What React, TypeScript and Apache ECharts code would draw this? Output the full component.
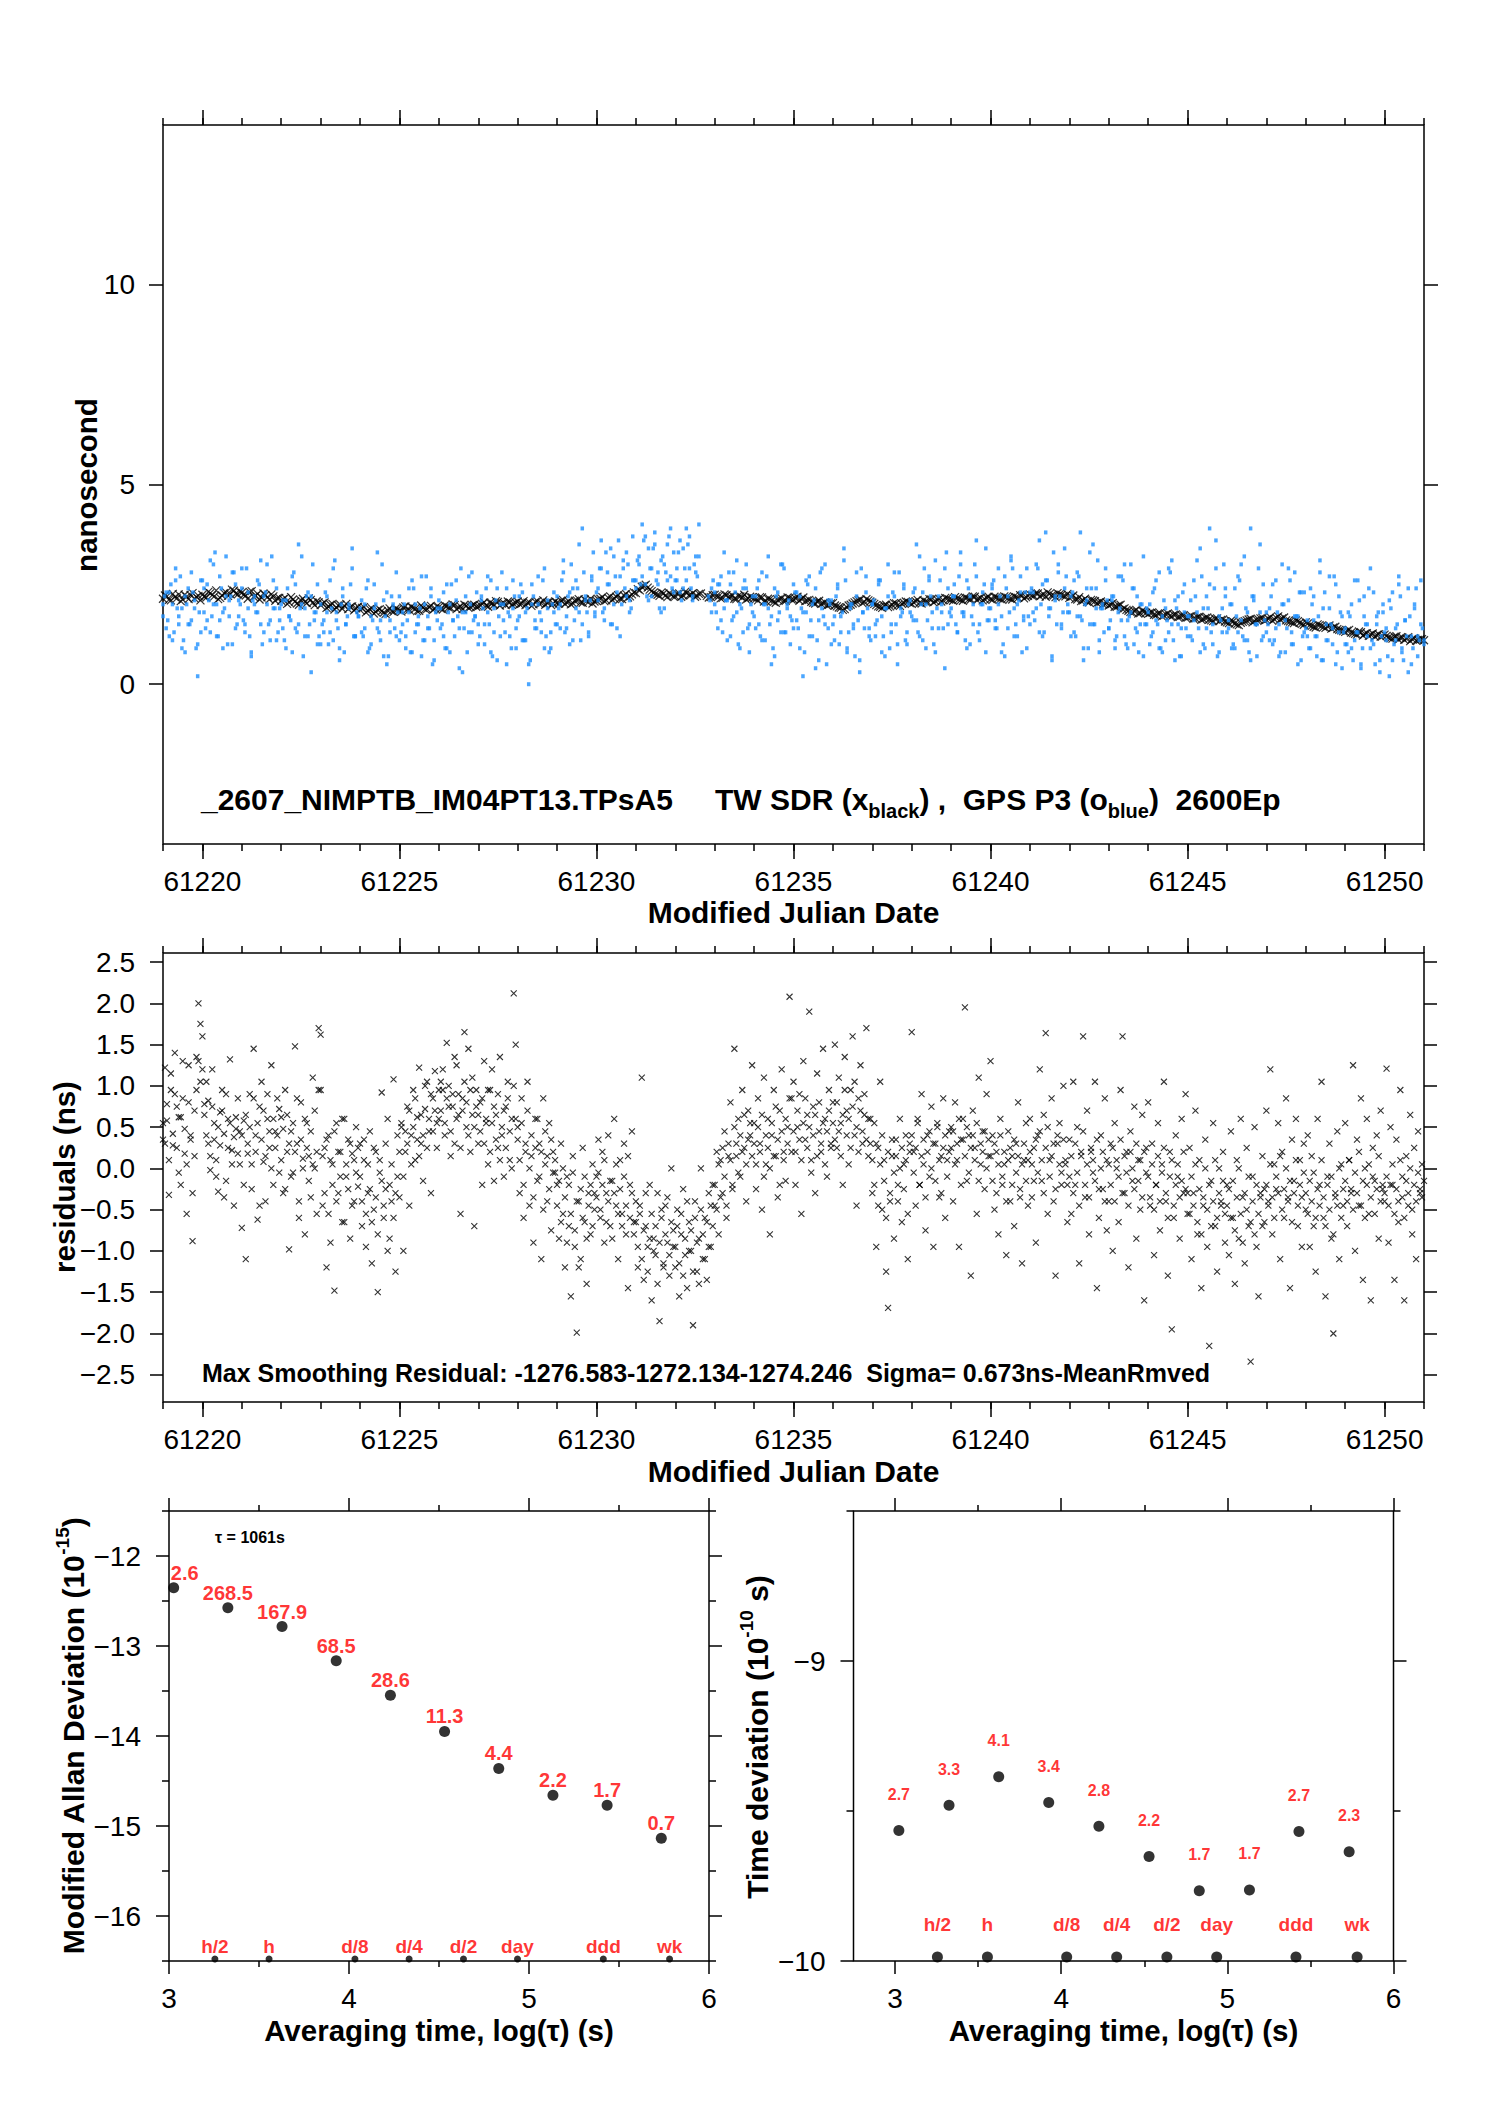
import React, { useEffect, useRef } from "react";
import * as echarts from "echarts";

// ---------- data ----------
const MJD_MIN = 61219;
const MJD_MAX = 61251;

// TW SDR (black x): two interleaved sample sets, 0.1 day apart each
const TW_START = 61219;
const TW_START_B = 61219.05;
const TW_STEP = 0.1;
const twSdr: (number | null)[] = [
  2.14, 2.20, 2.10, 2.18, 2.25, 2.12, 2.19, 2.23, 2.15, 2.21,
  2.24, 2.17, 2.28, 2.20, 2.13, 2.22, 2.30, 2.26, 2.34, 2.25,
  2.29, 2.22, 2.31, 2.19, 2.26, 2.17, 2.23, 2.12, 2.20, 2.15,
  2.09, 2.16, 2.05, 2.12, 2.02, 2.10, 2.06, 2.15, 2.04, 2.08,
  1.98, 2.05, 1.94, 2.01, 1.92, 1.99, 1.96, 1.88, 1.95, 1.90,
  1.86, 1.93, 1.84, 1.90, 1.81, 1.88, 1.79, 1.85, 1.83, 1.89,
  1.85, 1.92, 1.87, 1.94, 1.89, 1.84, 1.91, 1.88, 1.96, 1.90,
  1.93, 1.87, 1.95, 1.91, 1.98, 1.92, 1.88, 1.96, 1.93, 1.99,
  1.95, 2.01, 1.97, 2.04, 1.99, 2.06, 2.02, 1.98, 2.05, 2.01,
  2.07, 2.02, 1.98, 2.05, 2.00, 2.08, 2.03, 1.99, 2.06, 2.02,
  2.04, 2.09, 2.01, 2.07, 2.03, 2.10, 2.05, 2.12, 2.06, 2.02,
  2.09, 2.14, 2.08, 2.16, 2.11, 2.19, 2.14, 2.22, 2.17, 2.25,
  2.28, 2.35, 2.46, 2.42, 2.33, 2.26, 2.21, 2.27, 2.18, 2.24,
  2.20, 2.27, 2.22, 2.29, 2.24, 2.19, 2.26, null, 2.21, 2.18,
  2.24, 2.20, 2.16, 2.23, 2.19, 2.14, 2.21, 2.17, 2.12, 2.19,
  2.15, 2.10, 2.17, 2.08, 2.13, 2.06, 2.11, 2.15, 2.09, 2.16,
  2.12, 2.19, 2.14, 2.08, 2.11, 2.04, 2.07, 2.01, 2.05, 1.99,
  2.03, 1.95, 1.91, 1.88, 1.97, 2.02, 2.08, 2.12, 2.06, 2.10,
  2.04, 1.98, 1.94, 1.97, 1.93, 1.99, 2.02, 1.96, 2.04, 2.06,
  2.01, 2.08, 2.04, 2.10, 2.06, 2.12, 2.08, 2.14, 2.10, 2.15,
  2.11, 2.18, 2.13, 2.09, 2.16, 2.12, 2.19, 2.14, 2.10, 2.17,
  2.13, 2.19, 2.15, 2.11, 2.18, 2.14, 2.20, 2.16, 2.22, 2.18,
  2.25, 2.21, 2.27, 2.23, 2.19, 2.26, 2.22, 2.28, 2.24, 2.20,
  2.16, 2.22, 2.12, 2.08, 2.14, 2.05, 2.10, 2.03, 2.07, 2.01,
  1.97, 2.03, 1.94, 1.99, 1.90, 1.84, 1.80, 1.86, 1.78, 1.82,
  1.76, 1.80, 1.73, 1.78, 1.72, 1.77, 1.70, 1.75, 1.69, 1.73,
  1.67, 1.71, 1.65, 1.69, 1.63, 1.67, 1.60, 1.64, 1.58, 1.62,
  1.55, 1.59, 1.52, 1.48, 1.56, 1.60, 1.64, 1.58, 1.62, 1.66,
  1.61, 1.68, 1.63, 1.70, 1.65, 1.60, 1.57, 1.53, 1.58, 1.51,
  1.55, 1.48, 1.44, 1.50, 1.46, 1.41, 1.47, 1.42, 1.38, 1.35,
  1.31, 1.36, 1.28, 1.24, 1.30, 1.26, 1.21, 1.27, 1.23, 1.19,
  1.24, 1.17, 1.14, 1.20, 1.16, 1.11, 1.18, 1.13, 1.09, 1.12,
  1.10,
];
const twSdrB: (number | null)[] = [
  2.22, 2.11, 2.26, 2.15, 2.08, 2.24, 2.13, 2.28, 2.18, 2.10,
  2.19, 2.31, 2.23, 2.35, 2.16, 2.28, 2.21, 2.37, 2.27, 2.32,
  2.24, 2.14, 2.33, 2.21, 2.12, 2.27, 2.18, 2.25, 2.09, 2.16,
  2.13, 2.01, 2.18, 2.07, 1.99, 2.14, 2.03, 2.11, 1.98, 2.05,
  2.02, 1.91, 1.99, 1.87, 1.97, 1.89, 2.01, 1.93, 1.85, 1.94,
  1.91, 1.80, 1.88, 1.77, 1.86, 1.83, 1.76, 1.90, 1.81, 1.87,
  1.82, 1.95, 1.86, 1.91, 1.83, 1.97, 1.88, 1.93, 1.86, 1.95,
  1.89, 1.97, 1.92, 2.00, 1.88, 1.95, 1.99, 1.91, 1.97, 1.94,
  1.98, 2.05, 1.94, 2.02, 2.08, 1.97, 2.03, 2.07, 1.99, 2.04,
  2.00, 2.08, 2.04, 1.96, 2.06, 2.01, 2.10, 2.04, 1.98, 2.07,
  2.02, 2.11, 2.05, 2.00, 2.09, 2.13, 2.04, 2.08, 2.14, 2.07,
  2.12, 2.18, 2.10, 2.20, 2.15, 2.23, 2.13, 2.26, 2.20, 2.30,
  2.38, 2.44, 2.49, 2.37, 2.29, 2.24, 2.30, 2.22, 2.28, 2.20,
  2.26, 2.19, 2.31, 2.23, 2.28, 2.21, 2.27, null, 2.17, 2.23,
  2.21, 2.15, 2.25, 2.18, 2.22, 2.13, 2.20, 2.24, 2.15, 2.17,
  2.13, 2.18, 2.07, 2.14, 2.10, 2.04, 2.13, 2.08, 2.17, 2.12,
  2.15, 2.09, 2.17, 2.10, 2.06, 2.02, 2.09, 2.03, 1.97, 2.02,
  1.97, 1.92, 1.86, 1.93, 1.99, 2.05, 2.10, 2.03, 2.13, 2.07,
  2.01, 1.95, 1.91, 1.99, 1.95, 2.03, 1.98, 2.01, 2.07, 2.03,
  2.05, 2.11, 2.02, 2.07, 2.13, 2.05, 2.11, 2.07, 2.16, 2.12,
  2.09, 2.15, 2.11, 2.17, 2.13, 2.20, 2.11, 2.16, 2.13, 2.19,
  2.11, 2.17, 2.13, 2.20, 2.16, 2.12, 2.18, 2.23, 2.15, 2.21,
  2.22, 2.28, 2.20, 2.25, 2.30, 2.22, 2.18, 2.25, 2.21, 2.26,
  2.19, 2.13, 2.18, 2.10, 2.06, 2.11, 2.08, 2.05, 2.00, 2.04,
  2.00, 1.94, 1.97, 1.88, 1.86, 1.81, 1.83, 1.77, 1.84, 1.79,
  1.79, 1.74, 1.77, 1.70, 1.75, 1.71, 1.74, 1.68, 1.72, 1.66,
  1.70, 1.64, 1.68, 1.61, 1.66, 1.62, 1.58, 1.65, 1.61, 1.57,
  1.53, 1.57, 1.50, 1.54, 1.58, 1.62, 1.55, 1.61, 1.65, 1.59,
  1.64, 1.59, 1.66, 1.62, 1.67, 1.58, 1.55, 1.60, 1.54, 1.49,
  1.52, 1.46, 1.42, 1.48, 1.43, 1.45, 1.39, 1.44, 1.36, 1.33,
  1.34, 1.29, 1.26, 1.32, 1.22, 1.28, 1.24, 1.19, 1.25, 1.21,
  1.21, 1.15, 1.19, 1.12, 1.17, 1.14, 1.08, 1.15, 1.11, 1.13,
];

// GPS P3 (blue): three sample sets, 0.08 day apart each
const GPS_START = 61219;
const GPS_START_C = 61219.04;
const GPS_STEP = 0.08;
const gpsP3: (number | null)[] = [
  2.0, 1.4, 2.3, 1.1, 2.6, 1.7, 0.9, 2.2, 1.5, 2.8, 1.9, 0.2, 1.3,
  2.4, 1.6, 3.1, 2.0, 1.2, 2.7, 1.8, 3.2, 2.1, 1.0, 2.5, 1.7, 2.9,
  1.3, 2.3, 0.8, 2.0, 2.6, 1.5, 2.2, 3.0, 1.1, 1.9, 2.4, 1.6,
  2.1, 0.9, 1.7, 2.7, 1.4, 3.5, 2.0, 1.2, 2.3, 0.3, 1.8, 2.5, 1.0,
  1.6, 2.2, 1.3, 2.9, 1.8, 0.9, 2.4, 1.5, 2.0, 3.4, 1.2, 1.7,
  2.1, 1.4, 2.6, 1.0, 1.9, 3.3, 1.6, 0.7, 2.3, 1.3, 2.0, 2.8, 1.1,
  1.8, 1.2, 2.4, 0.8, 2.0, 1.5, 2.7, 1.1, 1.7, 2.2, 0.6, 1.9,
  1.4, 2.3, 0.9, 2.0, 1.6, 2.6, 0.4, 1.8, 2.2, 1.3, 2.8, 1.7, 1.0,
  2.1, 1.5, 2.7, 0.8, 1.9, 2.4, 1.2, 2.0, 0.5, 1.7, 2.6, 1.4,
  2.2, 1.1, 1.8, 0.0, 2.5, 1.6, 2.0, 1.3, 2.9, 1.9, 0.9, 2.3, 1.5,
  2.0, 3.1, 1.4, 2.3, 1.1, 2.6, 1.8, 3.9, 2.2, 1.3, 2.7, 1.7,
  2.4, 3.6, 1.9, 2.8, 1.5, 3.2, 2.3, 1.2, 2.9, 3.3, 2.1, 3.7, 2.6,
  3.0, 4.0, 2.5, 3.4, 2.2, 3.8, 2.8, 3.1, 1.9, 3.5, 2.7, 3.3,
  2.6, 3.6, 2.4, 3.9, 2.9, 2.2, 3.2, 4.0, null, null, null, 2.4, 2.0,
  2.5, 1.6, 3.3, 2.1, 1.2, 2.8, 1.8, 0.9, 2.4, 3.0, 1.5, 2.2,
  1.4, 2.6, 1.1, 2.0, 3.2, 1.7, 0.7, 2.3, 1.3, 2.9, 1.9, 1.0, 2.5,
  1.6, 2.2, 0.2, 1.8, 2.7, 1.2, 2.4, 0.6, 1.9, 3.0, 1.4, 2.1,
  1.1, 2.5, 1.7, 3.4, 0.9, 2.0, 1.4, 2.8, 0.3, 1.8, 2.3, 1.2, 2.0,
  1.5, 2.6, 0.8, 1.9, 3.0, 1.3, 2.2, 0.5, 1.7, 2.5, 1.0, 2.1,
  1.6, 3.5, 1.2, 2.3, 0.9, 2.7, 1.8, 3.1, 1.4, 2.0, 0.4, 2.4, 1.7,
  2.2, 1.3, 3.3, 1.8, 2.6, 1.0, 2.0, 3.6, 1.5, 2.3, 0.8, 1.9,
  2.5, 1.4, 2.9, 1.7, 0.7, 2.2, 3.2, 1.2, 2.0, 2.7, 1.6, 0.9, 2.3,
  1.8, 3.0, 1.3, 2.5, 3.8, 1.9, 0.6, 2.2, 2.8, 1.5, 3.4, 2.0,
  1.2, 2.6, 1.7, 3.8, 0.9, 2.1, 3.3, 1.5, 2.4, 0.8, 1.9, 2.9, 1.4,
  2.2, 1.1, 2.7, 1.6, 3.0, 0.9, 1.8, 2.4, 1.3, 2.0, 3.2, 1.5,
  1.0, 2.3, 1.6, 2.8, 0.8, 1.9, 1.3, 3.1, 2.1, 1.5, 0.7, 2.5, 1.7,
  1.2, 2.6, 1.8, 3.4, 1.0, 2.2, 3.9, 1.5, 2.9, 0.8, 1.9, 2.4,
  1.4, 2.0, 0.9, 2.7, 1.6, 3.2, 1.1, 3.9, 2.1, 0.7, 1.8, 2.5, 1.3,
  1.9, 1.0, 2.6, 1.5, 3.0, 0.8, 2.1, 1.3, 2.8, 1.7, 0.6, 2.3,
  1.2, 2.4, 1.6, 0.7, 3.1, 1.9, 1.1, 2.7, 1.4, 0.5, 2.2, 1.7, 1.0,
  1.8, 0.9, 2.6, 1.3, 0.4, 2.2, 1.5, 2.9, 1.0, 1.7, 0.6, 2.0,
  1.4, 0.2, 2.3, 1.1, 2.7, 0.8, 1.6, 2.4, 0.5, 1.9, 1.2, 2.6, 1.0,
];
const gpsP3b: (number | null)[] = [
  1.7, 2.3, 1.2, 2.0, 2.9, 1.5, 1.9, 0.8, 2.4, 1.6, 2.1, 1.0, 2.6,
  1.8, 2.5, 1.3, 3.0, 2.0, 1.6, 0.9, 2.2, 1.7, 2.8, 1.4, 2.1,
  2.4, 1.5, 1.9, 0.7, 2.2, 1.8, 3.1, 1.3, 2.0, 1.6, 2.6, 1.1, 1.9,
  1.4, 2.1, 1.7, 0.8, 2.5, 1.5, 3.2, 1.9, 1.2, 2.2, 1.6, 1.0,
  2.0, 1.3, 1.8, 2.6, 1.1, 1.6, 0.6, 2.2, 1.5, 1.9, 2.9, 1.2, 1.7,
  1.3, 2.0, 0.8, 1.7, 2.5, 1.4, 1.1, 2.1, 0.5, 1.6, 1.9, 1.2,
  2.2, 1.5, 0.9, 1.8, 2.6, 1.3, 1.7, 0.7, 2.0, 1.4, 2.4, 1.1, 1.6,
  1.9, 1.2, 2.5, 0.8, 1.6, 2.1, 1.4, 0.3, 1.8, 2.7, 1.3, 1.7,
  1.5, 2.2, 1.0, 1.8, 2.6, 1.3, 0.6, 2.0, 1.6, 2.4, 1.2, 1.9, 0.9,
  1.7, 2.3, 1.1, 0.5, 2.0, 1.4, 2.7, 1.6, 0.9, 2.1, 1.3, 1.8,
  2.2, 1.4, 2.8, 1.7, 1.0, 2.4, 1.9, 3.5, 1.5, 2.1, 1.2, 2.6, 1.8,
  2.1, 2.9, 1.6, 2.5, 3.4, 2.0, 1.4, 2.7, 3.1, 2.2, 1.8, 2.6,
  2.4, 3.2, 2.7, 3.7, 2.1, 2.9, 3.5, 2.5, 1.8, 3.0, 2.6, 3.9, 2.3,
  2.9, 2.3, 3.4, 2.6, 3.7, 2.1, 2.8, 3.2, null, null, 2.2, 1.8,
  2.3, 1.4, 2.7, 1.9, 1.1, 2.5, 1.7, 3.1, 2.0, 1.3, 2.4, 0.8, 1.8,
  2.2, 1.5, 2.8, 1.1, 1.9, 0.5, 2.4, 1.6, 3.0, 1.3, 2.0, 1.7,
  1.4, 2.3, 0.9, 1.8, 2.6, 1.2, 2.0, 0.4, 1.6, 2.9, 1.5, 2.1, 1.0,
  1.7, 2.4, 1.3, 3.1, 0.8, 1.9, 1.5, 2.2, 0.6, 1.8, 2.7, 1.4,
  2.0, 1.2, 2.5, 1.7, 0.7, 2.2, 1.5, 2.8, 1.0, 1.9, 2.4, 1.3, 1.8,
  2.3, 1.6, 3.2, 1.1, 2.0, 2.6, 1.4, 0.8, 2.2, 1.8, 2.9, 1.5,
  1.9, 2.5, 1.3, 3.0, 1.7, 0.9, 2.2, 1.5, 2.7, 1.1, 2.0, 3.4, 1.6,
  2.4, 1.6, 2.0, 0.8, 2.7, 1.4, 3.1, 1.9, 1.2, 2.3, 1.7, 2.9,
  1.5, 2.3, 1.9, 3.6, 1.2, 2.6, 1.7, 0.7, 2.1, 3.0, 1.4, 2.4, 1.8,
  2.2, 1.3, 2.8, 1.7, 0.6, 2.4, 1.5, 3.5, 1.9, 1.1, 2.0, 2.6,
  1.4, 2.1, 0.9, 1.8, 2.7, 1.2, 1.6, 3.0, 1.0, 2.2, 1.5, 0.7, 1.9,
  2.0, 1.3, 2.6, 0.9, 1.7, 1.1, 2.9, 1.5, 0.6, 2.2, 1.4, 1.8,
  1.2, 2.1, 1.6, 3.1, 0.8, 1.9, 1.4, 2.5, 1.0, 3.6, 1.7, 1.3, 2.2,
  1.6, 0.9, 2.4, 1.3, 3.0, 1.1, 1.8, 0.6, 2.2, 1.5, 3.5, 1.2,
  1.8, 1.1, 2.5, 1.4, 0.7, 2.0, 1.6, 2.9, 1.0, 1.7, 0.5, 2.3, 1.3,
  1.6, 0.9, 2.2, 1.2, 2.8, 0.6, 1.5, 1.9, 1.0, 2.5, 1.3, 0.4,
  1.4, 0.8, 2.0, 1.1, 2.6, 0.5, 1.7, 1.2, 0.9, 2.3, 1.5, 0.3, 1.8,
  1.1, 2.1, 0.6, 1.4, 2.5, 0.9, 1.6, 0.3, 1.2, 2.0, 0.7, 1.5,
  1.1,
];
const gpsP3c: (number | null)[] = [
  2.2, 1.6, 2.5, 1.3, 1.9, 2.7, 1.1, 2.0, 1.5, 2.3, 0.9, 1.8,
  2.6, 1.4, 2.1, 1.7, 3.3, 1.2, 2.4, 1.9, 1.0, 2.2, 2.8, 1.5, 2.0,
  1.6, 2.9, 1.2, 2.1, 1.8, 2.5, 1.0, 2.3, 1.5, 3.2, 1.9, 1.3,
  2.0, 1.1, 2.4, 1.6, 2.8, 1.3, 1.9, 0.7, 2.2, 1.5, 3.0, 1.8, 1.2,
  1.5, 2.3, 1.0, 1.9, 3.1, 1.4, 2.0, 0.8, 1.7, 2.5, 1.2, 1.8,
  1.9, 1.2, 2.4, 0.9, 1.6, 2.0, 1.3, 3.0, 1.7, 0.7, 2.2, 1.4, 1.8,
  1.3, 2.0, 1.6, 0.8, 2.4, 1.5, 1.9, 1.1, 2.7, 1.4, 0.5, 1.8,
  2.1, 1.5, 0.9, 1.8, 2.5, 1.2, 1.7, 2.9, 1.4, 0.8, 2.0, 1.6, 2.3,
  1.2, 1.9, 2.4, 1.5, 0.7, 2.1, 1.7, 2.8, 1.3, 1.8, 0.9, 2.2,
  1.6, 2.5, 1.1, 1.9, 0.6, 2.2, 1.4, 1.8, 2.6, 1.2, 0.8, 2.0, 1.5,
  1.9, 2.6, 1.3, 2.2, 3.0, 1.6, 2.4, 1.1, 2.8, 1.8, 2.1, 3.3,
  2.3, 2.9, 1.8, 3.3, 2.5, 1.5, 2.7, 3.6, 2.0, 2.4, 3.0, 1.9, 2.6,
  3.1, 2.5, 3.6, 2.2, 2.9, 3.4, 2.6, 1.9, 3.2, 2.8, 3.7, 2.4,
  2.6, 3.3, 2.1, 2.9, 3.5, 2.4, 3.0, 2.7, null, null, null, 2.1, 2.6,
  1.8, 2.5, 1.3, 2.1, 2.8, 1.6, 2.3, 1.0, 1.9, 2.6, 1.4, 2.0,
  1.7, 2.4, 1.2, 2.0, 2.7, 1.5, 0.9, 2.2, 1.8, 3.0, 1.3, 2.1, 1.6,
  2.3, 1.4, 1.9, 0.8, 2.5, 1.6, 2.1, 1.1, 2.8, 1.7, 0.5, 2.0,
  1.5, 2.2, 1.0, 1.8, 2.6, 1.3, 2.0, 0.7, 1.6, 2.9, 1.4, 1.9, 1.1,
  2.1, 1.6, 2.6, 1.2, 1.9, 0.9, 2.3, 1.5, 2.8, 1.8, 1.1, 2.0,
  1.7, 2.4, 1.3, 2.0, 2.9, 1.6, 2.2, 1.0, 1.9, 2.6, 1.4, 3.3, 1.8,
  2.2, 1.5, 2.7, 1.8, 1.1, 2.4, 1.7, 3.0, 1.3, 2.0, 2.5, 1.6,
  1.9, 2.6, 1.4, 2.2, 1.0, 2.4, 1.8, 2.9, 1.5, 2.1, 0.8, 2.3, 1.7,
  2.4, 1.6, 2.9, 2.0, 1.3, 2.6, 1.9, 3.3, 1.5, 2.2, 1.8, 2.7,
  1.8, 2.3, 1.2, 2.7, 1.6, 2.0, 0.9, 2.4, 1.5, 3.1, 1.9, 1.3, 2.1,
  1.6, 2.2, 1.2, 1.9, 2.6, 1.0, 1.7, 2.4, 1.4, 0.8, 2.0, 1.5,
  1.8, 1.2, 2.4, 1.5, 0.9, 2.1, 1.6, 2.8, 1.1, 1.9, 0.7, 2.3, 1.4,
  1.7, 1.1, 2.2, 1.4, 2.7, 0.9, 1.9, 1.3, 2.4, 0.7, 1.6, 3.0,
  1.3, 2.0, 1.0, 1.7, 2.6, 1.2, 1.9, 0.8, 2.2, 1.5, 2.9, 1.1, 1.6,
  1.5, 2.2, 1.1, 1.8, 0.8, 2.0, 1.4, 2.6, 1.0, 1.7, 2.3, 1.2,
  1.4, 0.9, 2.0, 1.2, 1.7, 0.6, 2.3, 1.1, 1.5, 2.7, 0.8, 1.8, 1.3,
  1.0, 1.7, 0.6, 1.3, 2.1, 0.9, 1.5, 2.4, 1.1, 0.5, 1.8, 1.2,
  1.3, 0.7, 1.9, 1.0, 1.5, 2.2, 0.6, 1.2, 1.7, 0.9, 2.4, 1.1, 1.4,
];

// Residuals (black x): two samples per epoch, one epoch every 0.05 day
const RES_START = 61219;
const RES_STEP = 0.05;
const residuals: number[] = [
  0.35, 1.22, 0.58, -0.32, 0.95, 0.28, 1.40, 0.75, -0.05, 0.62, 1.30, 0.18, -0.55, 0.80, 0.40, -0.88, 0.15, 1.35, 2.00, 1.75,
  1.60, 0.78, 1.05, 0.30, -0.02, 1.20, 0.55, 0.10, -0.28, 0.68, 0.95, 0.42, -0.15, 0.60, 1.32, 0.22, -0.45, 0.48, 0.85, 0.05,
  -0.72, 0.58, -1.10, 0.18, 0.90, -0.25, 1.45, 0.40, -0.62, 0.75, 1.05, 0.08, -0.40, 0.60, 0.25, 1.25, -0.20, 0.45, 0.85, -0.05,
  0.62, -0.30, 0.95, 0.20, -0.98, 0.45, -0.05, 1.48, 0.30, -0.60, 0.80, 0.12, -0.80, 0.55, 0.15, -0.35, 1.10, 0.00, -0.55, 1.70,
  1.62, -0.45, 0.25, -1.20, 0.40, -0.90, 0.05, -1.48, 0.55, -0.30, 0.20, -0.65, 0.60, -0.10, 0.35, -0.85, 0.18, -0.40, 0.50, -0.22,
  0.30, -0.70, 0.10, -0.95, -0.30, 0.45, -1.15, -0.50, 0.20, -1.50, -0.05, 0.92, -0.60, -0.25, 0.60, -0.85, -0.40, 1.08, -1.25, -0.10,
  -0.35, 0.50, -1.00, 0.20, 0.75, -0.45, 0.40, 0.95, 0.10, 0.62, 1.22, 0.30, -0.15, 0.72, 1.05, 0.45, -0.30, 0.85, 1.18, 0.25,
  0.60, 1.05, 0.95, 0.40, 1.52, 0.75, 0.15, 0.90, 0.30, 1.25, 0.65, -0.55, 0.85, 1.65, 0.50, 1.45, 0.20, 1.10, -0.70, 0.95,
  0.30, 0.80, -0.20, 1.30, 0.55, 0.05, 0.95, 1.20, -0.15, 0.65, 0.25, 1.35, 0.40, -0.10, 0.75, 1.05, 0.10, 0.60, 2.12, 1.50,
  0.50, -0.30, 0.85, -0.60, 0.20, 1.05, -0.45, 0.15, -0.90, 0.60, -0.15, 0.30, -1.10, 0.85, 0.05, -0.40, 0.55, -0.75, 0.20, -0.05,
  -0.20, -0.85, 0.30, -0.55, -1.20, -0.10, -0.70, -1.55, 0.15, -0.95, -1.99, -0.40, -1.10, 0.25, -0.65, -1.40, -0.30, -0.80, 0.05, -0.50,
  -0.10, 0.35, -0.60, 0.20, -0.90, -0.30, 0.40, -0.70, -0.15, 0.60, -0.45, -1.10, 0.10, -0.55, 0.30, -0.80, -1.45, -0.20, 0.45, -0.65,
  -0.40, -1.20, -0.55, 1.10, -1.35, -0.70, -0.95, -0.20, -1.60, -0.85, -1.05, -0.30, -1.85, -0.60, -1.15, -0.45, -0.90, -1.30, 0.00, -0.75,
  -1.20, -0.50, -1.55, -0.80, -0.25, -1.05, -1.45, -0.65, -1.00, -1.90, -0.40, -1.25, -0.85, 0.00, -1.10, -0.60, -1.35, -0.30, -0.95, -0.70,
  -0.45, 0.20, -0.80, 0.10, -0.30, 0.45, -0.60, 0.15, 0.80, -0.20, 1.45, 0.30, 0.60, -0.10, 0.95, 0.25, -0.40, 0.70, 0.40, 1.25,
  0.55, -0.25, 0.85, 0.30, -0.50, 1.10, 0.05, 0.60, -0.80, 0.40, 0.95, 0.15, -0.35, 0.70, 1.20, 0.20, -0.15, 0.50, 2.08, 0.85,
  1.05, -0.20, 0.50, 0.90, -0.55, 1.30, 0.35, 0.65, 1.90, 0.10, 0.75, -0.30, 1.15, 0.45, 0.20, 1.45, 0.60, -0.10, 0.95, 0.30,
  0.80, 1.50, 0.25, 1.10, 0.55, -0.20, 1.35, 0.70, 0.05, 0.95, 1.60, 0.40, -0.45, 0.85, 1.25, 0.30, 0.65, 1.70, 0.15, 0.60,
  -0.30, 0.55, -0.95, 0.25, 1.05, -0.50, 0.10, -1.25, -1.69, -0.40, 0.35, -0.85, 0.15, -0.20, 0.60, -0.65, 0.05, 0.40, -1.10, 0.20,
  1.65, 0.20, -0.45, 0.60, -0.20, 0.90, 0.05, -0.75, 0.40, -0.10, 0.75, -0.95, 0.30, 0.55, -0.35, 0.15, 0.85, -0.60, 0.10, 0.45,
  0.50, -0.40, 0.80, 0.10, -0.95, 0.35, 0.60, 1.95, -0.15, 0.40, -1.30, 0.70, 0.25, -0.55, 1.10, 0.05, 0.45, -0.25, 0.90, 0.15,
  1.30, 0.40, -0.50, 0.20, -0.80, 0.60, -0.20, 0.05, -1.05, 0.45, -0.40, 0.15, -0.70, 0.30, 0.80, -0.25, -1.15, 0.10, 0.55, -0.45,
  0.60, -0.35, 0.25, -0.90, 0.40, 1.20, -0.15, 0.65, 1.64, -0.55, 0.10, 0.85, -0.40, -1.30, 0.30, 0.55, -0.20, 1.00, 0.05, -0.65,
  0.35, -0.55, 1.05, -0.20, 0.50, -1.15, 0.15, 1.60, -0.35, 0.70, -0.80, 0.20, -0.05, 1.05, -1.45, -0.60, 0.40, -0.25, 0.85, -0.75,
  -0.40, 0.30, -1.00, 0.55, 0.00, -0.65, 0.95, 1.60, -0.30, 0.20, -1.20, 0.45, -0.15, 0.75, -0.85, 0.10, -0.50, 0.65, -1.60, 0.25,
  0.80, -0.45, 0.30, -1.05, -0.20, 0.55, -0.75, 0.05, 1.05, -0.40, -1.30, 0.20, -1.95, -0.60, 0.40, -0.10, -0.85, 0.60, -0.30, 0.90,
  -0.55, 0.25, -1.10, -0.30, 0.70, -0.80, 0.10, -1.45, -0.45, 0.35, -0.95, -2.15, -0.15, 0.55, -0.70, -1.25, 0.00, -0.40, 0.20, -0.90,
  -0.20, -1.05, 0.45, -0.60, -1.40, 0.10, -0.85, 0.60, -0.35, -1.15, 0.25, -0.70, -2.34, -0.10, 0.50, -0.95, -1.55, -0.30, 0.15, -0.65,
  0.70, -0.40, 1.20, -0.80, 0.05, -0.25, 0.55, -1.10, 0.20, -0.60, 0.85, -0.35, -1.45, 0.35, -0.15, 0.60, -0.70, 0.10, -0.95, 0.30,
  -0.50, 0.40, -0.95, 0.15, -0.70, -1.25, 0.60, -0.20, 1.05, -0.60, -1.55, -0.10, 0.30, -0.85, -2.00, -0.35, 0.45, -1.10, 0.05, -0.45,
  0.55, -0.70, 0.10, -0.30, 1.25, -1.00, 0.35, -0.45, 0.85, -1.35, 0.00, 0.60, -0.55, -1.60, 0.25, -0.15, 0.40, -0.85, 0.70, -0.25,
  -0.40, 1.21, -0.90, 0.50, -0.20, -1.35, 0.35, -0.65, 0.95, -0.10, -1.60, 0.15, -0.45, 0.65, -0.80, 0.25, -1.10, 0.45, -0.30, 0.05,
  -0.15,
];
const residualsB: number[] = [
  0.55, 0.30, 0.78, 0.10, 1.15, 0.42, 0.90, 0.25, 0.62, -0.20, 0.85, 0.48, 0.05, 1.25, 0.35, -0.30, 0.70, 0.95, 1.30, 1.05,
  1.20, 0.65, 0.40, 0.82, 0.15, 0.75, 0.35, -0.10, 0.50, 0.28, 0.70, -0.35, 0.90, 0.25, 0.55, 0.05, 0.38, 0.62, 0.18, 0.45,
  0.40, -0.20, 0.65, 0.30, 0.50, 0.05, 0.85, 0.20, 0.55, -0.45, 0.35, 0.70, 0.15, 0.90, 0.45, 0.00, 0.60, 0.25, 0.40, 0.72,
  0.10, 0.48, -0.25, 0.65, 0.30, -0.10, 0.55, 0.20, 0.85, -0.40, 0.35, 0.00, 0.60, 0.25, -0.15, 0.45, 0.05, 0.70, 0.20, 0.95,
  0.95, 0.15, -0.30, 0.35, -0.55, 0.10, -0.20, 0.45, -0.40, 0.20, -0.10, 0.60, -0.65, 0.05, -0.25, 0.30, -0.45, 0.10, -0.05, 0.25,
  -0.10, -0.40, 0.35, -0.55, 0.05, -0.25, -0.65, 0.25, -0.35, -0.80, 0.10, -0.15, -0.45, 0.30, -1.00, -0.20, 0.05, -0.60, -0.30, 0.40,
  0.20, 0.55, -0.10, 0.45, 0.30, 0.70, 0.05, 0.50, 0.85, 0.35, 0.15, 0.65, 0.40, 1.00, 0.25, 0.60, 0.90, 0.45, 0.70, 0.55,
  0.95, 0.70, 1.20, 0.55, 0.85, 1.00, 0.45, 0.75, 1.35, 0.60, 0.90, 0.25, 0.70, 1.05, 0.80, 0.40, 0.95, 0.65, 0.50, 0.75,
  0.65, 0.45, 0.85, 0.30, 0.60, 0.95, 0.20, 0.55, 0.75, 0.35, 0.90, 0.10, 0.50, 0.70, 0.25, 0.85, 0.45, 0.00, 1.00, 0.60,
  0.35, 0.10, 0.55, -0.20, 0.30, 0.70, 0.00, 0.40, -0.35, 0.25, 0.60, -0.10, 0.20, -0.50, 0.45, 0.15, -0.25, 0.35, -0.05, 0.10,
  -0.45, -0.15, -0.65, 0.00, -0.35, -0.90, -0.20, -0.55, -0.05, -0.75, -0.40, -1.20, -0.25, -0.60, -0.10, -0.85, -0.45, -0.20, -0.70, -0.30,
  -0.35, -0.05, -0.50, -0.20, 0.10, -0.65, -0.40, -0.15, -0.85, -0.30, 0.05, -0.55, -0.25, -0.70, -0.10, -0.45, 0.15, -0.60, -0.30, -0.80,
  -0.65, -0.95, -0.45, -1.10, -0.75, -0.30, -1.25, -0.85, -0.55, -1.00, -0.70, -1.40, -0.90, -0.50, -1.20, -0.80, -0.35, -1.05, -0.65, -0.95,
  -0.95, -0.70, -1.15, -0.55, -1.30, -0.85, -0.40, -1.00, -0.75, -1.25, -0.60, -0.90, -1.40, -0.50, -0.80, -1.10, -0.65, -0.95, -0.45, -0.20,
  -0.20, -0.50, 0.05, -0.35, 0.25, -0.10, -0.45, 0.30, 0.10, -0.25, 0.50, 0.15, -0.05, 0.40, 0.20, 0.65, 0.05, 0.35, 0.55, 0.15,
  0.30, 0.05, 0.50, 0.20, 0.65, -0.10, 0.40, 0.25, 0.00, 0.55, 0.15, 0.75, 0.35, -0.20, 0.45, 0.10, 0.60, 0.30, 0.85, 0.20,
  0.45, 0.20, 0.70, 0.35, 0.10, 0.55, 0.85, 0.25, 0.50, -0.05, 0.40, 0.65, 0.15, 0.80, 0.30, 0.55, 0.05, 0.45, 0.70, 0.25,
  0.55, 0.35, 0.80, 0.45, 0.15, 0.65, 0.95, 0.40, 0.60, 0.25, 0.75, 1.05, 0.50, 0.20, 0.70, 0.45, 0.90, 0.35, 0.60, 0.30,
  0.10, -0.20, 0.30, -0.45, 0.05, 0.40, -0.15, -0.60, 0.20, -0.30, 0.15, -0.05, 0.35, -0.40, 0.00, 0.25, -0.25, 0.10, -0.55, 0.30,
  0.40, -0.05, 0.25, 0.55, -0.20, 0.15, 0.35, -0.35, 0.20, 0.45, 0.00, 0.30, -0.15, 0.50, 0.10, -0.30, 0.25, 0.40, -0.10, 0.20,
  0.25, 0.45, 0.05, 0.30, 0.60, -0.20, 0.35, 0.15, 0.50, -0.05, 0.25, 0.40, 0.10, 0.55, -0.15, 0.30, 0.20, 0.45, 0.00, 0.35,
  0.15, -0.15, 0.30, -0.30, 0.05, 0.40, -0.10, 0.20, -0.40, 0.10, 0.25, -0.20, 0.35, -0.05, 0.15, -0.35, 0.05, 0.30, -0.15, 0.10,
  0.20, 0.05, -0.15, 0.35, -0.05, 0.45, 0.10, -0.30, 0.25, 0.50, -0.10, 0.15, 0.30, -0.25, 0.40, 0.05, -0.05, 0.35, 0.10, -0.20,
  -0.10, 0.15, -0.30, 0.30, -0.05, -0.45, 0.20, 0.45, -0.20, 0.05, -0.35, 0.25, 0.10, -0.15, 0.35, -0.25, 0.00, 0.20, -0.40, 0.10,
  0.05, -0.20, 0.25, -0.40, 0.10, -0.10, 0.35, -0.30, 0.15, -0.05, -0.45, 0.20, 0.00, -0.25, 0.30, -0.15, 0.10, -0.35, 0.20, -0.05,
  -0.10, -0.35, 0.05, -0.50, -0.20, 0.15, -0.40, -0.05, 0.25, -0.30, -0.60, -0.10, 0.10, -0.45, -0.20, 0.05, -0.35, -0.15, 0.20, -0.25,
  -0.30, -0.55, -0.10, -0.45, 0.05, -0.65, -0.25, -0.80, -0.35, 0.00, -0.50, -0.20, -0.70, -0.40, 0.10, -0.60, -0.30, -0.45, -0.15, -0.55,
  -0.45, -0.25, -0.60, -0.15, -0.75, -0.35, 0.00, -0.55, -0.90, -0.30, -0.50, -0.10, -0.65, -0.40, -0.80, -0.20, -0.55, -0.35, -0.70, -0.25,
  -0.20, -0.45, 0.05, -0.35, -0.60, -0.10, -0.30, 0.15, -0.50, -0.25, 0.00, -0.40, -0.15, -0.65, -0.30, 0.10, -0.45, -0.20, -0.35, -0.05,
  -0.30, -0.55, -0.15, -0.40, -0.05, -0.60, -0.25, -0.45, 0.10, -0.35, -0.70, -0.20, -0.50, -0.10, -0.80, -0.30, -0.45, 0.00, -0.60, -0.25,
  -0.15, -0.40, 0.10, -0.25, -0.50, -0.05, -0.30, 0.20, -0.45, -0.15, -0.60, -0.20, 0.05, -0.35, -0.10, -0.55, -0.25, 0.15, -0.40, -0.20,
  -0.30, -0.10, -0.45, -0.20, 0.05, -0.55, -0.25, -0.40, 0.10, -0.35, -0.60, -0.15, -0.30, 0.00, -0.50, -0.20, -0.40, -0.05, -0.25, -0.35,
];

// axis ticks / labels
const mjdDays = [
  61219, 61220, 61221, 61222, 61223, 61224, 61225, 61226, 61227, 61228, 61229,
  61230, 61231, 61232, 61233, 61234, 61235, 61236, 61237, 61238, 61239, 61240,
  61241, 61242, 61243, 61244, 61245, 61246, 61247, 61248, 61249, 61250, 61251,
];
const mjdLabels = [61220, 61225, 61230, 61235, 61240, 61245, 61250];
const nsLabels = [0, 5, 10];
const resLabels = [-2.5, -2, -1.5, -1, -0.5, 0, 0.5, 1, 1.5, 2, 2.5];
const logTauLabels = [3, 4, 5, 6];
const logTauMinor = [3.5, 4.5, 5.5];
const adevTicks = [-16, -15, -14, -13, -12];
const adevMinor = [-16.5, -15.5, -14.5, -13.5, -12.5, -11.5];
const tdevTicks = [-10, -9];
const tdevMinor = [-9.5, -8.5];

// Modified Allan deviation (log10)
const adevLogTau = [3.026, 3.327, 3.628, 3.929, 4.23, 4.531, 4.832, 5.133, 5.434, 5.735];
const adevValues = [-12.354, -12.576, -12.784, -13.165, -13.547, -13.949, -14.361, -14.658, -14.769, -15.137];
const adevLabels = ["2.6", "268.5", "167.9", "68.5", "28.6", "11.3", "4.4", "2.2", "1.7", "0.7"];

// Time deviation (log10)
const tdevLogTau = [3.023, 3.325, 3.624, 3.925, 4.227, 4.529, 4.831, 5.133, 5.431, 5.733];
const tdevValues = [-9.565, -9.481, -9.386, -9.472, -9.551, -9.652, -9.766, -9.763, -9.568, -9.636];
const tdevLabels = ["2.7", "3.3", "4.1", "3.4", "2.8", "2.2", "1.7", "1.7", "2.7", "2.3"];

// reference averaging times
const markerNames = ["h/2", "h", "d/8", "d/4", "d/2", "day", "ddd", "wk"];
const markerLogTau = [3.255, 3.556, 4.033, 4.334, 4.636, 4.936, 5.413, 5.781];

// ---------- styling ----------
const FONT = '"Liberation Sans", Arial, Helvetica, sans-serif';
const MINUS = "\u2212";
const fmtPlain = (v: number) => String(v).replace("-", MINUS);
const fmtOne = (v: number) => v.toFixed(1).replace("-", MINUS);
const CROSS = "path://M0,0L10,10M10,0L0,10";

function axis(
  dim: "x" | "y",
  gridIndex: number,
  min: number,
  max: number,
  position: string,
  ticks: number[],
  tickLen: number,
  labels?: number[],
  fmt?: (v: number) => string
) {
  return {
    type: "value",
    gridIndex,
    min,
    max,
    position,
    axisLine: { show: false, onZero: false },
    splitLine: { show: false },
    axisTick: {
      show: true,
      inside: false,
      length: tickLen,
      customValues: ticks,
      lineStyle: { color: "#000", width: 1.5 },
    },
    axisLabel: labels
      ? {
          show: true,
          customValues: labels,
          margin: dim === "x" ? 23 : 28,
          fontSize: 28,
          color: "#000",
          fontFamily: FONT,
          formatter: fmt,
        }
      : { show: false },
  };
}

function boldText(x: number, y: number, text: string, size: number, opts: any = {}) {
  return {
    type: "text",
    x,
    y,
    rotation: opts.rotation || 0,
    silent: true,
    style: {
      text,
      fontSize: size,
      fontWeight: "bold",
      fontFamily: FONT,
      fill: "#000",
      align: opts.align || "center",
      verticalAlign: "middle",
      lineHeight: opts.lineHeight,
      rich: opts.rich,
    },
  };
}

const series = (start: number, step: number, vals: (number | null)[]) =>
  vals.map((v, i) => [start + i * step, v]).filter((d) => d[1] !== null);

export default function App() {
  const ref = useRef<HTMLDivElement>(null);

  useEffect(() => {
    document.body.style.margin = "0";
    if (!ref.current) return;
    const chart = echarts.init(ref.current, null, { renderer: "svg" });

    const twData = [...series(TW_START, TW_STEP, twSdr), ...series(TW_START_B, TW_STEP, twSdrB)];
    const gpsData = [
      ...series(GPS_START, GPS_STEP, gpsP3),
      ...series(GPS_START, GPS_STEP, gpsP3b),
      ...series(GPS_START_C, GPS_STEP, gpsP3c),
    ];
    const resData = [...series(RES_START, RES_STEP, residuals), ...series(RES_START, RES_STEP, residualsB)];
    const adevData = adevLogTau.map((x, i) => ({
      value: [x, adevValues[i]],
      label: i === 0 ? { offset: [11, -15] } : undefined,
    }));
    const tdevData = tdevLogTau.map((x, i) => [x, tdevValues[i]]);

    const frame = { show: true, borderColor: "#000", borderWidth: 1.5, backgroundColor: "transparent" };
    const grids = [
      { left: 163, top: 125, width: 1261, height: 719, ...frame },
      { left: 163, top: 953, width: 1261, height: 449, ...frame },
      { left: 169, top: 1511, width: 540, height: 450, ...frame },
      { left: 853.5, top: 1511, width: 540, height: 450, ...frame },
    ].map((g) => ({ ...g, containLabel: false, outerBoundsMode: "none" }));

    const xAxes: any[] = [];
    const yAxes: any[] = [];
    for (const g of [0, 1]) {
      xAxes.push(axis("x", g, MJD_MIN, MJD_MAX, "bottom", mjdDays, 7, mjdLabels, (v) => String(v)));
      xAxes.push(axis("x", g, MJD_MIN, MJD_MAX, "bottom", mjdLabels, 15));
      xAxes.push(axis("x", g, MJD_MIN, MJD_MAX, "top", mjdDays, 7));
      xAxes.push(axis("x", g, MJD_MIN, MJD_MAX, "top", mjdLabels, 15));
    }
    yAxes.push(axis("y", 0, -4, 14, "left", nsLabels, 14, nsLabels, fmtPlain));
    yAxes.push(axis("y", 0, -4, 14, "right", nsLabels, 14));
    yAxes.push(axis("y", 1, -2.83, 2.61, "left", resLabels, 13, resLabels, fmtOne));
    yAxes.push(axis("y", 1, -2.83, 2.61, "right", resLabels, 13));
    const xMins = [3, 2.75];
    for (const k of [0, 1]) {
      const g = 2 + k;
      xAxes.push(axis("x", g, xMins[k], 6, "bottom", logTauLabels, 13, logTauLabels, fmtPlain));
      xAxes.push(axis("x", g, xMins[k], 6, "bottom", logTauMinor, 6));
      xAxes.push(axis("x", g, xMins[k], 6, "top", logTauLabels, 13));
      xAxes.push(axis("x", g, xMins[k], 6, "top", logTauMinor, 6));
    }
    yAxes.push(axis("y", 2, -16.5, -11.5, "left", adevTicks, 13, adevTicks, fmtPlain));
    yAxes.push(axis("y", 2, -16.5, -11.5, "left", adevMinor, 7));
    yAxes.push(axis("y", 2, -16.5, -11.5, "right", adevTicks, 13));
    yAxes.push(axis("y", 2, -16.5, -11.5, "right", adevMinor, 7));
    yAxes.push(axis("y", 3, -10, -8.5, "left", tdevTicks, 13, tdevTicks, fmtPlain));
    yAxes.push(axis("y", 3, -10, -8.5, "left", tdevMinor, 7));
    yAxes.push(axis("y", 3, -10, -8.5, "right", tdevTicks, 13));
    yAxes.push(axis("y", 3, -10, -8.5, "right", tdevMinor, 7));

    const redLabel = (size: number) => ({
      show: true,
      position: "inside",
      color: "#ff0000",
      textBorderWidth: 0,
      fontWeight: "bold",
      fontFamily: FONT,
      fontSize: size,
    });

    const option: any = {
      animation: false,
      textStyle: { fontFamily: FONT },
      grid: grids,
      xAxis: xAxes,
      yAxis: yAxes,
      series: [
        {
          type: "scatter",
          xAxisIndex: 0,
          yAxisIndex: 0,
          data: twData,
          symbol: CROSS,
          symbolSize: 8,
          itemStyle: { color: "transparent", borderColor: "#000", borderWidth: 1.2 },
          silent: true,
          large: false,
        },
        {
          type: "scatter",
          xAxisIndex: 0,
          yAxisIndex: 0,
          data: gpsData,
          symbol: "rect",
          symbolSize: [3.5, 4],
          itemStyle: { color: "#1e90ff" },
          silent: true,
          large: false,
        },
        {
          type: "scatter",
          xAxisIndex: 4,
          yAxisIndex: 2,
          data: resData,
          symbol: CROSS,
          symbolSize: 6,
          itemStyle: { color: "transparent", borderColor: "#000", borderWidth: 1.1 },
          silent: true,
          large: false,
        },
        {
          type: "scatter",
          xAxisIndex: 8,
          yAxisIndex: 4,
          data: adevData,
          symbol: "circle",
          symbolSize: 11,
          itemStyle: { color: "#000" },
          label: { ...redLabel(20), offset: [0, -15], formatter: (p: any) => adevLabels[p.dataIndex] },
          silent: true,
          clip: false,
        },
        {
          type: "scatter",
          xAxisIndex: 8,
          yAxisIndex: 4,
          data: markerLogTau.map((x) => [x, -16.5]),
          symbol: "circle",
          symbolSize: 7,
          symbolOffset: [0, -2],
          itemStyle: { color: "#000" },
          label: { ...redLabel(19), offset: [0, -13], formatter: (p: any) => markerNames[p.dataIndex] },
          silent: true,
          clip: false,
        },
        {
          type: "scatter",
          xAxisIndex: 12,
          yAxisIndex: 8,
          data: tdevData,
          symbol: "circle",
          symbolSize: 11,
          itemStyle: { color: "#000" },
          label: { ...redLabel(16), offset: [0, -36], formatter: (p: any) => tdevLabels[p.dataIndex] },
          silent: true,
          clip: false,
        },
        {
          type: "scatter",
          xAxisIndex: 12,
          yAxisIndex: 8,
          data: markerLogTau.map((x) => [x, -10]),
          symbol: "circle",
          symbolSize: 11,
          symbolOffset: [0, -4],
          itemStyle: { color: "#000" },
          label: { ...redLabel(19), offset: [0, -33], formatter: (p: any) => markerNames[p.dataIndex] },
          silent: true,
          clip: false,
        },
      ],
      graphic: {
        elements: [
          boldText(793.5, 912, "Modified Julian Date", 30),
          boldText(793.5, 1471, "Modified Julian Date", 30),
          boldText(86, 485, "nanosecond", 29.5, { rotation: Math.PI / 2 }),
          boldText(64, 1177, "residuals (ns)", 29.5, { rotation: Math.PI / 2 }),
          boldText(201, 799.5, "_2607_NIMPTB_IM04PT13.TPsA5", 30, { align: "left" }),
          boldText(
            715,
            799.5,
            "TW SDR (x{sub|black}) ,\u00a0\u00a0GPS P3 (o{sub|blue})\u00a0\u00a02600Ep",
            30,
            {
              align: "left",
              lineHeight: 42,
              rich: {
                sub: {
                  fontSize: 20,
                  fontWeight: "bold",
                  fontFamily: FONT,
                  fill: "#000",
                  lineHeight: 20,
                  verticalAlign: "bottom",
                },
              },
            }
          ),
          boldText(
            202,
            1373,
            "Max Smoothing Residual: -1276.583-1272.134-1274.246\u00a0\u00a0Sigma= 0.673ns-MeanRmved",
            25,
            { align: "left" }
          ),
          boldText(215, 1537, "\u03c4 = 1061s", 16, { align: "left" }),
          boldText(439, 2030, "Averaging time, log(\u03c4) (s)", 29.5),
          boldText(1123.5, 2030, "Averaging time, log(\u03c4) (s)", 29.5),
          boldText(73, 1736, "Modified Allan Deviation (10{sup|-15})", 30, {
            rotation: Math.PI / 2,
            lineHeight: 40,
            rich: {
              sup: {
                fontSize: 19,
                fontWeight: "bold",
                fontFamily: FONT,
                fill: "#000",
                lineHeight: 18,
                verticalAlign: "top",
              },
            },
          }),
          boldText(757, 1737, "Time deviation (10{sup|-10} s)", 30, {
            rotation: Math.PI / 2,
            lineHeight: 40,
            rich: {
              sup: {
                fontSize: 19,
                fontWeight: "bold",
                fontFamily: FONT,
                fill: "#000",
                lineHeight: 18,
                verticalAlign: "top",
              },
            },
          }),
        ],
      },
    };

    chart.setOption(option);
    return () => chart.dispose();
  }, []);

  return <div ref={ref} style={{ width: 1488, height: 2105, background: "#fff" }} />;
}
